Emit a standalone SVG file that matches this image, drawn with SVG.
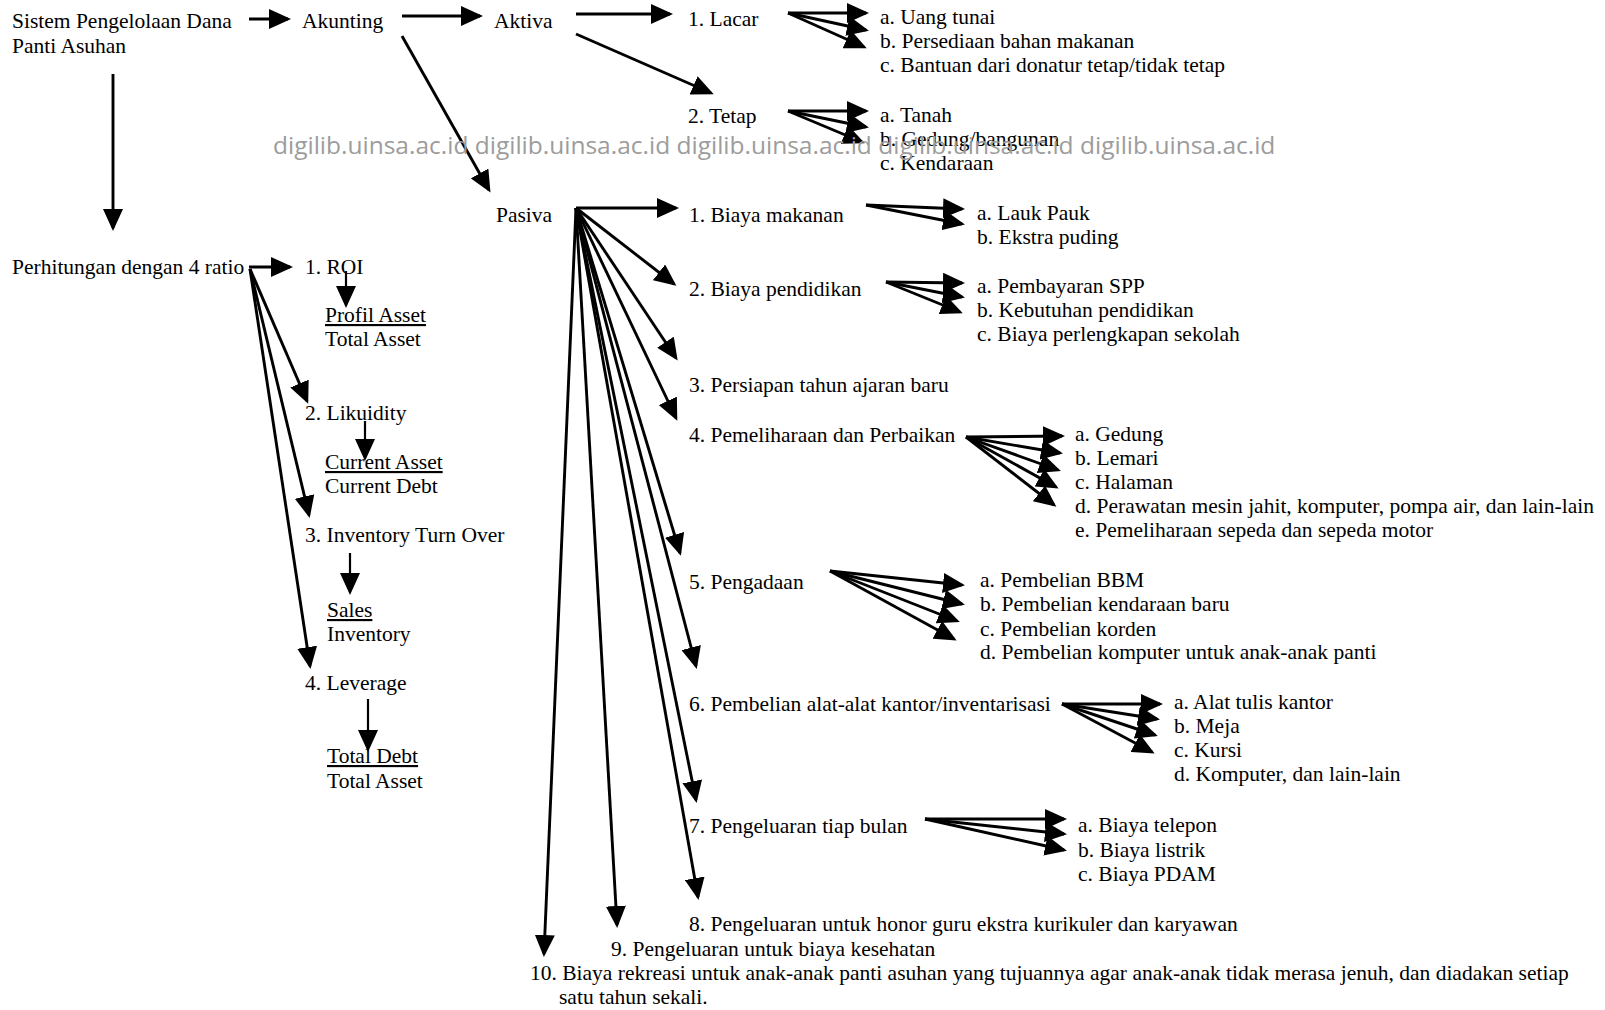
<svg xmlns="http://www.w3.org/2000/svg" width="1605" height="1010" viewBox="0 0 1605 1010">
<style>
.t{font-family:"Liberation Serif","Times New Roman",serif;font-size:21.5px;fill:#000}
.u{text-decoration:underline}
.wm{font-family:"Open Sans",sans-serif;font-size:24.5px;fill:#9c9c9c}
.c{stroke:#000;stroke-width:2.9;fill:none;marker-end:url(#ah)}
.s{stroke:#000;stroke-width:2.2;fill:none;marker-end:url(#ah)}
</style>
<defs>
<marker id="ah" markerUnits="userSpaceOnUse" markerWidth="22" markerHeight="20" refX="19" refY="10" orient="auto">
<path d="M0,0 L22,10 L0,20 z" fill="#000"/>
</marker>
</defs>
<rect width="1605" height="1010" fill="#fff"/>
<g id="connectors">
<line class="c" x1="249" y1="19" x2="288" y2="19"/>
<line class="c" x1="402" y1="16" x2="480" y2="16"/>
<line class="c" x1="576" y1="14" x2="670" y2="14"/>
<line class="c" x1="788" y1="13" x2="866" y2="13"/>
<line class="c" x1="788" y1="13" x2="866" y2="30"/>
<line class="c" x1="788" y1="13" x2="864" y2="47"/>
<line class="c" x1="576" y1="34" x2="711" y2="93"/>
<line class="c" x1="788" y1="111" x2="866" y2="111"/>
<line class="c" x1="788" y1="111" x2="866" y2="127"/>
<line class="c" x1="788" y1="111" x2="862" y2="142"/>
<line class="c" x1="402" y1="36" x2="489" y2="190"/>
<line class="c" x1="113" y1="74" x2="113" y2="228"/>
<line class="c" x1="249" y1="267" x2="290" y2="267"/>
<line class="s" x1="346" y1="271" x2="346" y2="305"/>
<line class="c" x1="250" y1="269" x2="307" y2="401"/>
<line class="s" x1="365" y1="421" x2="365" y2="458"/>
<line class="c" x1="250" y1="269" x2="309" y2="515"/>
<line class="s" x1="350" y1="553" x2="350" y2="592"/>
<line class="c" x1="250" y1="269" x2="310" y2="666"/>
<line class="s" x1="368" y1="699" x2="368" y2="749"/>
<line class="c" x1="576" y1="208" x2="676" y2="208"/>
<line class="c" x1="576" y1="208" x2="674" y2="284"/>
<line class="c" x1="576" y1="208" x2="676" y2="358"/>
<line class="c" x1="576" y1="208" x2="676" y2="418"/>
<line class="c" x1="576" y1="208" x2="680" y2="553"/>
<line class="c" x1="576" y1="208" x2="696" y2="666"/>
<line class="c" x1="576" y1="208" x2="696" y2="800"/>
<line class="c" x1="576" y1="208" x2="698" y2="897"/>
<line class="c" x1="576" y1="208" x2="617" y2="925"/>
<line class="c" x1="576" y1="208" x2="544" y2="954"/>
<line class="c" x1="866" y1="205" x2="962" y2="209"/>
<line class="c" x1="866" y1="205" x2="962" y2="224"/>
<line class="c" x1="886" y1="282" x2="962" y2="283"/>
<line class="c" x1="886" y1="282" x2="962" y2="297"/>
<line class="c" x1="886" y1="282" x2="960" y2="312"/>
<line class="c" x1="966" y1="437" x2="1062" y2="436"/>
<line class="c" x1="966" y1="437" x2="1060" y2="453"/>
<line class="c" x1="966" y1="437" x2="1058" y2="470"/>
<line class="c" x1="966" y1="437" x2="1056" y2="487"/>
<line class="c" x1="966" y1="437" x2="1054" y2="505"/>
<line class="c" x1="830" y1="571" x2="962" y2="585"/>
<line class="c" x1="830" y1="571" x2="962" y2="604"/>
<line class="c" x1="830" y1="571" x2="957" y2="621"/>
<line class="c" x1="830" y1="571" x2="954" y2="639"/>
<line class="c" x1="1062" y1="704" x2="1160" y2="704"/>
<line class="c" x1="1062" y1="704" x2="1157" y2="719"/>
<line class="c" x1="1062" y1="704" x2="1155" y2="735"/>
<line class="c" x1="1062" y1="704" x2="1152" y2="752"/>
<line class="c" x1="925" y1="819" x2="1064" y2="819"/>
<line class="c" x1="925" y1="819" x2="1064" y2="834"/>
<line class="c" x1="925" y1="819" x2="1064" y2="850"/>
</g>
<g id="n-sistem"><text class="t" x="12" y="28">Sistem Pengelolaan Dana</text><text class="t" x="12" y="53">Panti Asuhan</text></g>
<g id="n-akunting"><text class="t" x="302" y="28">Akunting</text></g>
<g id="n-aktiva"><text class="t" x="494" y="28">Aktiva</text></g>
<g id="n-lacar"><text class="t" x="688" y="26">1. Lacar</text></g>
<g id="n-lacar-a"><text class="t" x="880" y="24">a. Uang tunai</text></g>
<g id="n-lacar-b"><text class="t" x="880" y="48">b. Persediaan bahan makanan</text></g>
<g id="n-lacar-c"><text class="t" x="880" y="72">c. Bantuan dari donatur tetap/tidak tetap</text></g>
<g id="n-tetap"><text class="t" x="688" y="123">2. Tetap</text></g>
<g id="n-tetap-a"><text class="t" x="880" y="122">a. Tanah</text></g>
<g id="n-tetap-b"><text class="t" x="880" y="146">b. Gedung/bangunan</text></g>
<g id="n-tetap-c"><text class="t" x="880" y="170">c. Kendaraan</text></g>
<g id="n-pasiva"><text class="t" x="496" y="222">Pasiva</text></g>
<g id="n-ratio"><text class="t" x="12" y="274">Perhitungan dengan 4 ratio</text></g>
<g id="n-roi"><text class="t" x="305" y="274">1. ROI</text><text class="t u" x="325" y="322">Profil Asset</text><text class="t" x="325" y="346">Total Asset</text></g>
<g id="n-lik"><text class="t" x="305" y="420">2. Likuidity</text><text class="t u" x="325" y="469">Current Asset</text><text class="t" x="325" y="493">Current Debt</text></g>
<g id="n-inv"><text class="t" x="305" y="542">3. Inventory Turn Over</text><text class="t u" x="327" y="617">Sales</text><text class="t" x="327" y="641">Inventory</text></g>
<g id="n-lev"><text class="t" x="305" y="690">4. Leverage</text><text class="t u" x="327" y="763">Total Debt</text><text class="t" x="327" y="788">Total Asset</text></g>
<g id="n-p1"><text class="t" x="689" y="222">1. Biaya makanan</text></g>
<g id="n-p1a"><text class="t" x="977" y="220">a. Lauk Pauk</text><text class="t" x="977" y="244">b. Ekstra puding</text></g>
<g id="n-p2"><text class="t" x="689" y="296">2. Biaya pendidikan</text></g>
<g id="n-p2a"><text class="t" x="977" y="293">a. Pembayaran SPP</text><text class="t" x="977" y="317">b. Kebutuhan pendidikan</text><text class="t" x="977" y="341">c. Biaya perlengkapan sekolah</text></g>
<g id="n-p3"><text class="t" x="689" y="392">3. Persiapan tahun ajaran baru</text></g>
<g id="n-p4"><text class="t" x="689" y="442">4. Pemeliharaan dan Perbaikan</text></g>
<g id="n-p4a"><text class="t" x="1075" y="441">a. Gedung</text><text class="t" x="1075" y="465">b. Lemari</text><text class="t" x="1075" y="489">c. Halaman</text><text class="t" x="1075" y="513">d. Perawatan mesin jahit, komputer, pompa air, dan lain-lain</text><text class="t" x="1075" y="537">e. Pemeliharaan sepeda dan sepeda motor</text></g>
<g id="n-p5"><text class="t" x="689" y="589">5. Pengadaan</text></g>
<g id="n-p5a"><text class="t" x="980" y="587">a. Pembelian BBM</text><text class="t" x="980" y="611">b. Pembelian kendaraan baru</text><text class="t" x="980" y="636">c. Pembelian korden</text><text class="t" x="980" y="659">d. Pembelian komputer untuk anak-anak panti</text></g>
<g id="n-p6"><text class="t" x="689" y="711">6. Pembelian alat-alat kantor/inventarisasi</text></g>
<g id="n-p6a"><text class="t" x="1174" y="709">a. Alat tulis kantor</text><text class="t" x="1174" y="733">b. Meja</text><text class="t" x="1174" y="757">c. Kursi</text><text class="t" x="1174" y="781">d. Komputer, dan lain-lain</text></g>
<g id="n-p7"><text class="t" x="689" y="833">7. Pengeluaran tiap bulan</text></g>
<g id="n-p7a"><text class="t" x="1078" y="832">a. Biaya telepon</text><text class="t" x="1078" y="857">b. Biaya listrik</text><text class="t" x="1078" y="881">c. Biaya PDAM</text></g>
<g id="n-p8"><text class="t" x="689" y="931">8. Pengeluaran untuk honor guru ekstra kurikuler dan karyawan</text></g>
<g id="n-p9"><text class="t" x="611" y="956">9. Pengeluaran untuk biaya kesehatan</text></g>
<g id="n-p10"><text class="t" x="530" y="980">10. Biaya rekreasi untuk anak-anak panti asuhan yang tujuannya agar anak-anak tidak merasa jenuh, dan diadakan setiap</text><text class="t" x="559" y="1004">satu tahun sekali.</text></g>
<g id="watermark"><text class="wm" x="273" y="154">digilib.uinsa.ac.id digilib.uinsa.ac.id digilib.uinsa.ac.id digilib.uinsa.ac.id digilib.uinsa.ac.id</text></g>
</svg>
